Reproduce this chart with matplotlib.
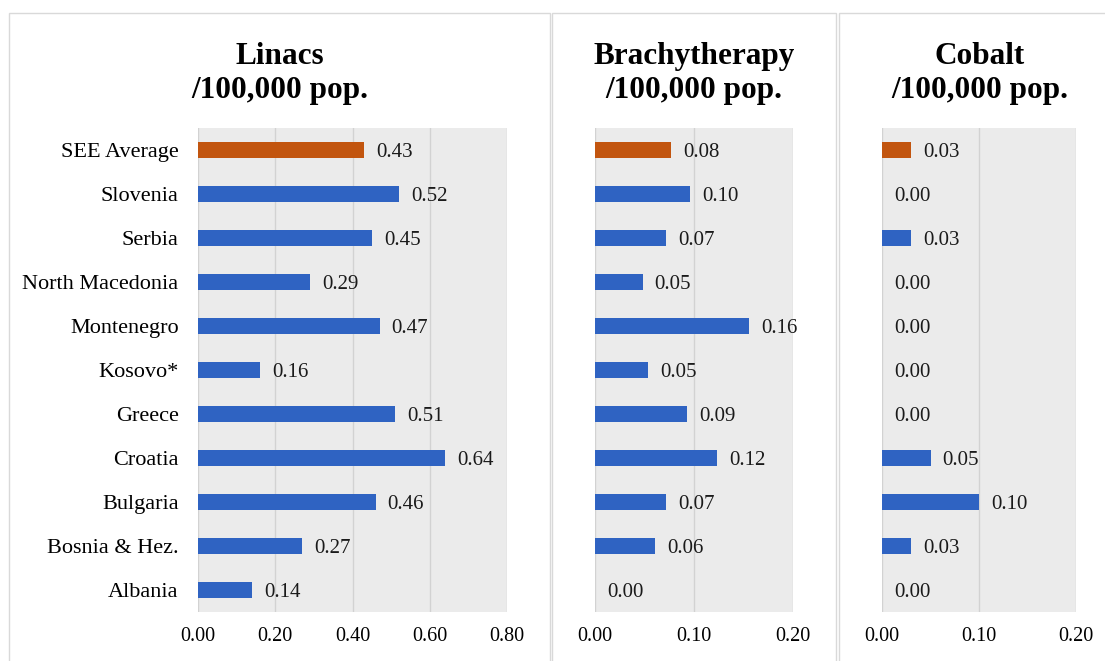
import matplotlib
matplotlib.use("Agg")
import matplotlib.pyplot as plt
from matplotlib.patches import Rectangle

plt.rcParams['font.family'] = ['Liberation Serif', 'DejaVu Serif']

categories = ["SEE Average", "Slovenia", "Serbia", "North Macedonia", "Montenegro",
              "Kosovo*", "Greece", "Croatia", "Bulgaria", "Bosnia & Hez.", "Albania"]
linacs = [0.43, 0.52, 0.45, 0.29, 0.47, 0.16, 0.51, 0.64, 0.46, 0.27, 0.14]
brachy = [0.077, 0.096, 0.072, 0.048, 0.156, 0.054, 0.093, 0.123, 0.072, 0.061, 0.0]
cobalt = [0.03, 0.0, 0.03, 0.0, 0.0, 0.0, 0.0, 0.05, 0.10, 0.03, 0.0]

titles = ["Linacs", "Brachytherapy", "Cobalt"]
xticks_lin = [0.0, 0.2, 0.4, 0.6, 0.8]
xticks_small = [0.0, 0.1, 0.2]

BLUE = "#2F63C2"
ORANGE = "#C2550F"
BG = "#EBEBEB"
GRID = "#D2D2D2"
BORDER = "#D9D9D9"

W, H = 1105, 661
fig = plt.figure(figsize=(W / 100, H / 100), dpi=100)

def fx(px):
    return px / W

def fy(py):
    return 1 - py / H

# panel frames
for (x0, x1) in [(9, 550), (552, 836), (839, 1125)]:
    fig.add_artist(Rectangle((fx(x0), fy(700)), fx(x1 - x0), (700 - 13) / H,
                             transform=fig.transFigure, fill=False,
                             edgecolor=BORDER, linewidth=1.0, clip_on=False))

top, bot = 128, 612
axes_px = [(198, 507), (595, 793), (882, 1076)]
datasets = [linacs, brachy, cobalt]
ticksets = [xticks_lin, xticks_small, xticks_small]
title_centers = [280, 694, 980]

for i, ((x0, x1), vals, ticks) in enumerate(zip(axes_px, datasets, ticksets)):
    ax = fig.add_axes([fx(x0), fy(bot), fx(x1 - x0), (bot - top) / H])
    ax.set_facecolor(BG)
    ypos = list(range(len(categories)))
    colors = [ORANGE] + [BLUE] * (len(categories) - 1)
    ax.barh(ypos, vals, height=0.35, color=colors, zorder=3)
    ax.set_ylim(len(categories) - 0.5, -0.5)
    ax.set_xlim(ticks[0], ticks[-1])
    ax.set_xticks(ticks)
    ax.set_xticklabels([f"{t:.2f}" for t in ticks], fontsize=14.5)
    ax.xaxis.grid(True, color=GRID, linewidth=1.0, zorder=0)
    ax.set_axisbelow(True)
    ax.tick_params(axis='x', length=0, pad=11)
    if i == 0:
        ax.set_yticks(ypos)
        ax.set_yticklabels(categories, fontsize=16, va="center_baseline")
        ax.tick_params(axis='y', length=0, pad=14)
    else:
        ax.set_yticks([])
    for s in ax.spines.values():
        s.set_visible(False)
    for y, v in zip(ypos, vals):
        ax.annotate(f"{v:.2f}", xy=(v, y), xytext=(12, 0), textcoords="offset pixels",
                    va="center_baseline", ha="left", fontsize=15, color="#1a1a1a", zorder=4)
    fig.text(fx(title_centers[i]), fy(64), titles[i], ha="center", va="baseline",
             fontsize=22.5, fontweight="bold")
    fig.text(fx(title_centers[i]), fy(98), "/100,000 pop.", ha="center", va="baseline",
             fontsize=22.5, fontweight="bold")

fig.savefig("out.png", dpi=100, facecolor="white")
